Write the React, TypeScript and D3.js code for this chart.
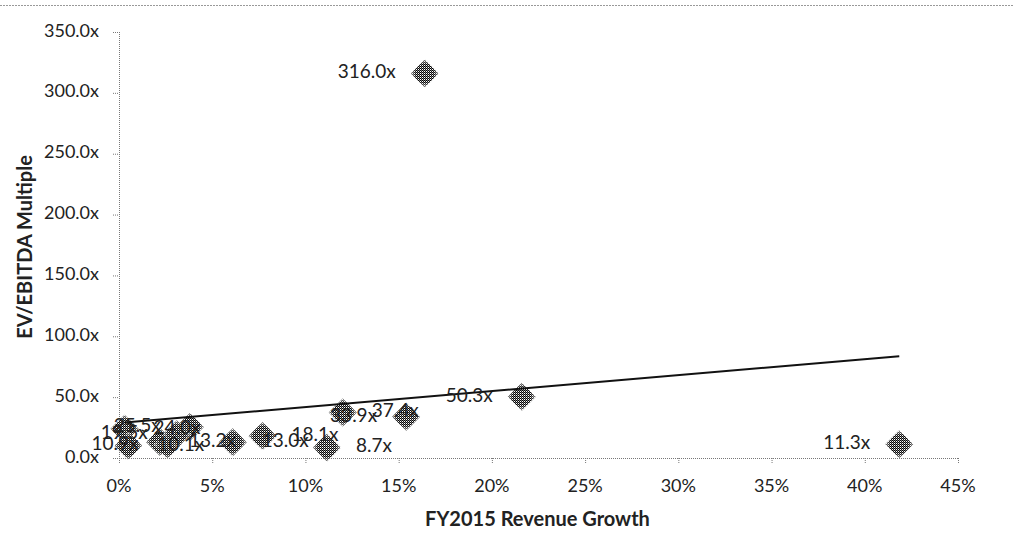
import React from "react";
import * as d3 from "d3";

// data
const growth = [16.4, 21.6, 41.85, 15.4, 12.0, 11.15, 7.7, 6.1, 2.2, 2.6, 0.3, 3.8, 3.1, 0.5];
const multiples = [316.0, 50.3, 11.3, 33.9, 37.4, 8.7, 18.1, 13.0, 13.2, 10.9, 24.0, 25.5, 19.5, 10.1];
const pointLabels = ["316.0x", "50.3x", "11.3x", "33.9x", "37.4x", "8.7x", "18.1x", "13.0x", "13.2x", "10.9x", "24.0x", "25.5x", "19.5x", "10.1x"];
// label side: -1 left of the marker, 1 right of it
const labelSide = [-1, -1, -1, -1, 1, 1, 1, 1, 1, -1, 1, -1, -1, 1];

const xTicks = [0, 5, 10, 15, 20, 25, 30, 35, 40, 45];
const yTicks = [0, 50, 100, 150, 200, 250, 300, 350];

const W = 1014;
const H = 533;
const margin = { left: 119, right: 56, top: 32, bottom: 75 };
const font = "Lato, 'Open Sans', sans-serif";

const App = () => {
  const x = d3.scaleLinear().domain([0, 45]).range([margin.left, W - margin.right]);
  const y = d3.scaleLinear().domain([0, 350]).range([H - margin.bottom, margin.top]);

  // linear trendline (least squares)
  const mx = d3.mean(growth) ?? 0;
  const my = d3.mean(multiples) ?? 0;
  let sxy = 0;
  let sxx = 0;
  growth.forEach((g, i) => {
    sxy += (g - mx) * (multiples[i] - my);
    sxx += (g - mx) * (g - mx);
  });
  const slope = sxy / sxx;
  const icpt = my - slope * mx;
  const [gMin, gMax] = d3.extent(growth) as [number, number];
  const trend = d3
    .line<number>()
    .x((g) => x(g))
    .y((g) => y(icpt + slope * g))([gMin, gMax]);

  const r = 14;
  const diamond = (cx: number, cy: number) =>
    `M${cx},${cy - r}L${cx + r},${cy}L${cx},${cy + r}L${cx - r},${cy}Z`;

  const axisStyle = { stroke: "#777", strokeWidth: 1, strokeDasharray: "1,1" };
  const x0 = margin.left;
  const yBase = H - margin.bottom;

  return (
    <svg width={W} height={H} style={{ position: "absolute", left: 0, top: 0, background: "#fff" }}>
      <defs>
        <pattern id="dither" width="2" height="2" patternUnits="userSpaceOnUse">
          <rect width="2" height="2" fill="#fff" />
          <rect x="0" y="0" width="1" height="1" fill="#000" />
          <rect x="1" y="1" width="1" height="1" fill="#111" />
          <rect x="1" y="0" width="1" height="1" fill="#777" />
        </pattern>
        <radialGradient id="soft" cx="50%" cy="50%" r="50%">
          <stop offset="65%" stopColor="#fff" stopOpacity="0" />
          <stop offset="100%" stopColor="#fff" stopOpacity="0.55" />
        </radialGradient>
      </defs>

      {/* chart border top */}
      <line x1={0} x2={W} y1={5.5} y2={5.5} stroke="#999" strokeDasharray="2,1" />

      {/* axes */}
      <line x1={x0 + 0.5} x2={x0 + 0.5} y1={margin.top} y2={yBase} style={axisStyle} />
      <line x1={x0} x2={W - margin.right} y1={yBase + 0.5} y2={yBase + 0.5} style={axisStyle} />

      {yTicks.map((t) => (
        <g key={"y" + t}>
          <line x1={x0 - 6} x2={x0} y1={y(t) + 0.5} y2={y(t) + 0.5} style={axisStyle} />
          <text
            x={x0 - 20}
            y={y(t)}
            textAnchor="end"
            dominantBaseline="middle"
            fontFamily={font}
            fontSize={18}
            fill="#222"
          >
            {t.toFixed(1) + "x"}
          </text>
        </g>
      ))}
      {xTicks.map((t) => (
        <g key={"x" + t}>
          <line x1={x(t) + 0.5} x2={x(t) + 0.5} y1={yBase} y2={yBase + 6} style={axisStyle} />
          <text
            x={x(t)}
            y={yBase + 29}
            textAnchor="middle"
            dominantBaseline="middle"
            fontFamily={font}
            fontSize={18}
            fill="#222"
          >
            {t + "%"}
          </text>
        </g>
      ))}

      {/* axis titles */}
      <text
        x={(x0 + W - margin.right) / 2 - 1}
        y={521}
        textAnchor="middle"
        dominantBaseline="middle"
        fontFamily={font}
        fontWeight="bold"
        fontSize={20}
        fill="#222"
      >
        FY2015 Revenue Growth
      </text>
      <text
        transform={`translate(27,${(margin.top + yBase) / 2 + 2}) rotate(-90)`}
        textAnchor="middle"
        dominantBaseline="middle"
        fontFamily={font}
        fontWeight="bold"
        fontSize={20}
        fill="#222"
      >
        EV/EBITDA Multiple
      </text>

      {/* markers */}
      {growth.map((g, i) => (
        <g key={"p" + i}>
          <path d={diamond(x(g), y(multiples[i]))} fill="url(#dither)" />
          <path d={diamond(x(g), y(multiples[i]))} fill="url(#soft)" />
        </g>
      ))}

      {/* trendline */}
      <path d={trend ?? ""} fill="none" stroke="#111" strokeWidth={2} />

      {/* data labels */}
      {growth.map((g, i) => (
        <text
          key={"l" + i}
          x={x(g) + labelSide[i] * 29}
          y={y(multiples[i])}
          textAnchor={labelSide[i] < 0 ? "end" : "start"}
          dominantBaseline="middle"
          fontFamily={font}
          fontSize={19}
          fill="#222"
        >
          {pointLabels[i]}
        </text>
      ))}
    </svg>
  );
};

export default App;
